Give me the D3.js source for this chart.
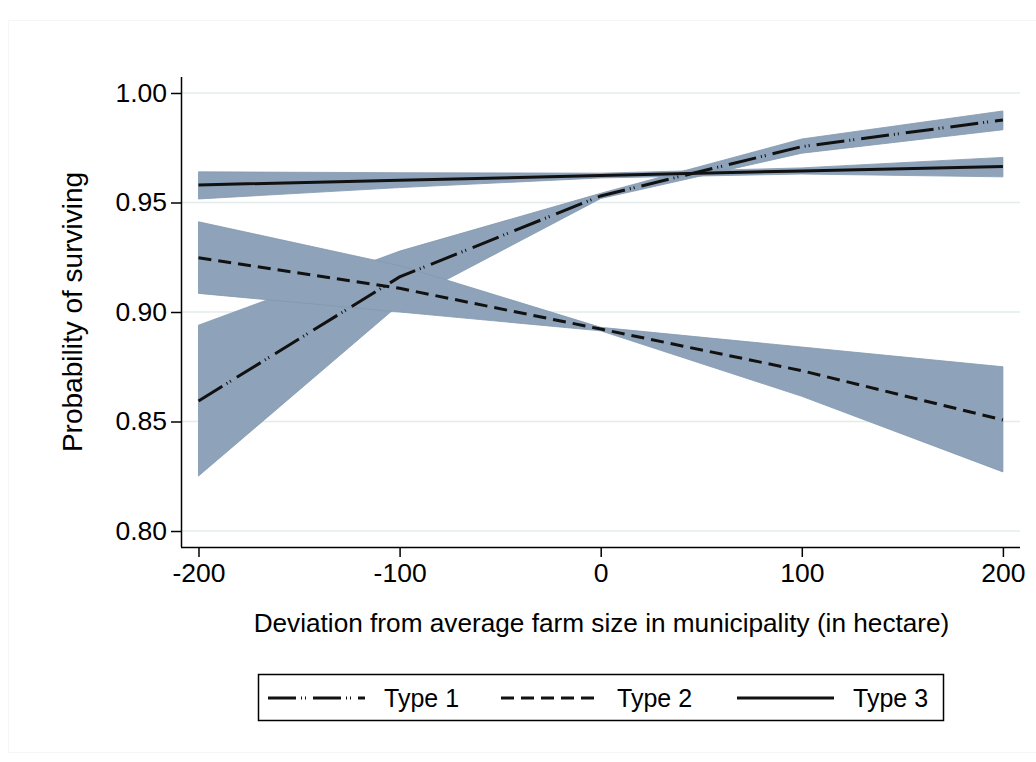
<!DOCTYPE html>
<html><head><meta charset="utf-8">
<script src="https://cdn.jsdelivr.net/npm/d3@7"></script>
<style>body{margin:0;background:#fff;} svg{display:block;font-family:"Liberation Sans",Arial,sans-serif;}</style>
</head><body>
<svg id="chart" width="1036" height="762"></svg>
<script>
const xValues = [-200, -100, 0, 100, 200];
const xTicks = [-200, -100, 0, 100, 200];
const xTickLabels = ["-200", "-100", "0", "100", "200"];
const yTicks = [0.80, 0.85, 0.90, 0.95, 1.00];
const yTickLabels = ["0.80", "0.85", "0.90", "0.95", "1.00"];
const seriesNames = ["Type 1", "Type 2", "Type 3"];
const type1 = [0.8594, 0.9160, 0.9530, 0.9755, 0.9877];
const type1Lo = [0.8251, 0.9035, 0.9518, 0.9725, 0.9832];
const type1Hi = [0.8940, 0.9278, 0.9542, 0.9790, 0.9918];
const type2 = [0.9248, 0.9108, 0.8922, 0.8732, 0.8507];
const type2Lo = [0.9085, 0.9000, 0.8914, 0.8615, 0.8270];
const type2Hi = [0.9412, 0.9212, 0.8930, 0.8840, 0.8750];
const type3 = [0.9580, 0.9602, 0.9623, 0.9644, 0.9664];
const type3Lo = [0.9516, 0.9568, 0.9612, 0.9630, 0.9617];
const type3Hi = [0.9640, 0.9636, 0.9634, 0.9658, 0.9706];

(function () {
const svg = d3.select("#chart");
const W = 1036, H = 762;
svg.append("rect").attr("width", W).attr("height", H).attr("fill", "#fff");
svg.append("rect").attr("x", 8.5).attr("y", 20.5).attr("width", W - 8).attr("height", H - 30)
  .attr("fill", "none").attr("stroke", "#f6f6f6");

const pLeft = 182, pRight = 1020, pTop = 77, pBottom = 547;
const x = d3.scaleLinear().domain([-208.2, 208.5]).range([pLeft, pRight]);
const y = d3.scaleLinear().domain([0.7927, 1.0073]).range([pBottom, pTop]);

svg.append("g").selectAll("line").data(yTicks).join("line")
  .attr("x1", pLeft).attr("x2", pRight)
  .attr("y1", d => y(d)).attr("y2", d => y(d))
  .attr("stroke", "#e3ecec").attr("stroke-width", 1.5);

const bandColor = "#8ea3b9";
const series = [
  {name: seriesNames[0], v: type1, lo: type1Lo, hi: type1Hi, dash: "28,5,1,3,1,7"},
  {name: seriesNames[1], v: type2, lo: type2Lo, hi: type2Hi, dash: "13,7"},
  {name: seriesNames[2], v: type3, lo: type3Lo, hi: type3Hi, dash: null}
];

const area = d3.area().x(d => x(d.x)).y0(d => y(d.lo)).y1(d => y(d.hi));
const line = d3.line().x(d => x(d.x)).y(d => y(d.v));

const plot = svg.append("g");
series.forEach(s => {
  const pts = xValues.map((xv, i) => ({x: xv, v: s.v[i], lo: s.lo[i], hi: s.hi[i]}));
  plot.append("path").datum(pts).attr("d", area)
    .attr("fill", bandColor).attr("stroke", "#8398ae").attr("stroke-width", 0.8);
});
series.forEach(s => {
  const pts = xValues.map((xv, i) => ({x: xv, v: s.v[i]}));
  plot.append("path").datum(pts).attr("d", line)
    .attr("fill", "none").attr("stroke", "#111").attr("stroke-width", 3)
    .attr("stroke-dasharray", s.dash);
});

const yAxis = d3.axisLeft(y).tickValues(yTicks).tickFormat((d, i) => yTickLabels[i]).tickSize(11).tickPadding(4);
const gy = svg.append("g").attr("transform", `translate(${pLeft},0)`).call(yAxis);
gy.select(".domain").attr("d", `M-0.5,${pTop}V${pBottom}`).attr("stroke", "#000").attr("stroke-width", 1.5);
gy.selectAll(".tick line").attr("stroke", "#000").attr("stroke-width", 1.5);
gy.selectAll("text").attr("font-size", 26.5).attr("fill", "#000").attr("font-family", "Liberation Sans, Arial, sans-serif");

const xAxis = d3.axisBottom(x).tickValues(xTicks).tickFormat((d, i) => xTickLabels[i]).tickSize(10).tickPadding(6);
const gx = svg.append("g").attr("transform", `translate(0,${pBottom})`).call(xAxis);
gx.select(".domain").attr("d", `M${pLeft - 1},0.5H${pRight}`).attr("stroke", "#000").attr("stroke-width", 1.5);
gx.selectAll(".tick line").attr("stroke", "#000").attr("stroke-width", 1.5);
gx.selectAll("text").attr("font-size", 26.5).attr("fill", "#000").attr("font-family", "Liberation Sans, Arial, sans-serif");

svg.append("text").attr("x", (pLeft + pRight) / 2 + 0.5).attr("y", 632).attr("text-anchor", "middle")
  .attr("font-size", 26.2).text("Deviation from average farm size in municipality (in hectare)");
svg.append("text").attr("transform", `translate(82,${(pTop + pBottom) / 2}) rotate(-90)`)
  .attr("text-anchor", "middle").attr("font-size", 28).text("Probability of surviving");

const lg = svg.append("g");
lg.append("rect").attr("x", 258.5).attr("y", 674.5).attr("width", 685).attr("height", 46)
  .attr("fill", "#fff").attr("stroke", "#000").attr("stroke-width", 1.5);
const legendX = [268, 501, 737];
series.forEach((s, i) => {
  lg.append("line").attr("x1", legendX[i]).attr("x2", legendX[i] + 97)
    .attr("y1", 698).attr("y2", 698).attr("stroke", "#111").attr("stroke-width", 3)
    .attr("stroke-dasharray", s.dash);
  lg.append("text").attr("x", legendX[i] + 116).attr("y", 707).attr("font-size", 25).text(s.name);
});
})();
</script>
</body></html>
